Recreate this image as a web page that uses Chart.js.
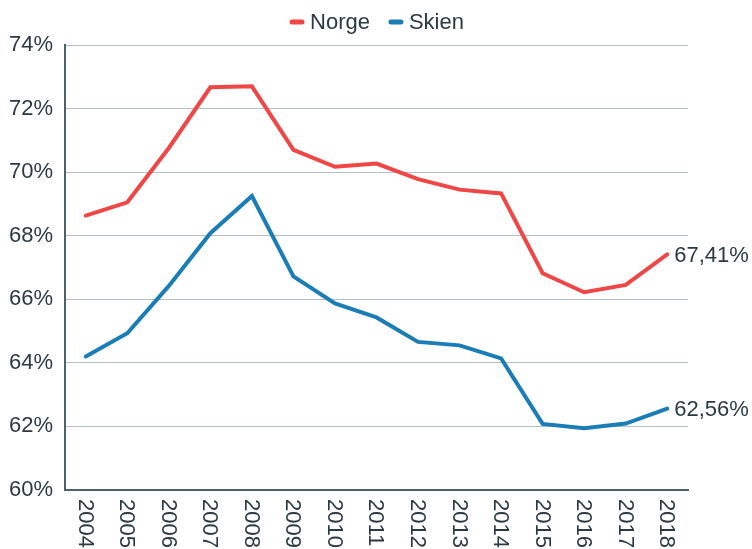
<!DOCTYPE html>
<html>
<head>
<meta charset="utf-8">
<script src="https://cdn.jsdelivr.net/npm/chart.js@4.4.0/dist/chart.umd.min.js"></script>
<style>
  html, body { margin: 0; padding: 0; background: #ffffff; }
  #wrap { width: 752px; height: 549px; }
</style>
</head>
<body>
<div id="wrap"><canvas id="lineChart" width="752" height="549"></canvas></div>
<script>
const years = ["2004", "2005", "2006", "2007", "2008", "2009", "2010", "2011",
  "2012", "2013", "2014", "2015", "2016", "2017", "2018"];
const norge = [68.63, 69.05, 70.76, 72.67, 72.70, 70.70, 70.17, 70.27,
  69.78, 69.45, 69.33, 66.82, 66.22, 66.45, 67.41];
const skien = [64.20, 64.93, 66.42, 68.08, 69.25, 66.72, 65.87, 65.43,
  64.66, 64.55, 64.14, 62.08, 61.94, 62.09, 62.56];
const yTicks = [60, 62, 64, 66, 68, 70, 72, 74];

const textColor = "#2b3a42";
const fontFamily = "'Liberation Sans', Arial, sans-serif";
const fontSize = 22;

function fmt(v) {
  return v.toFixed(2).replace(".", ",") + "%";
}

// legend, x labels read top-to-bottom, end value labels
const extras = {
  id: "extras",
  afterDraw(chart) {
    const ctx = chart.ctx;
    const xScale = chart.scales.x;
    const area = chart.chartArea;
    ctx.save();
    ctx.fillStyle = textColor;
    ctx.font = fontSize + "px " + fontFamily;

    // legend centred on the canvas
    const sets = chart.data.datasets;
    const markW = 10, gapText = 10, gapItem = 19;
    let total = 0;
    sets.forEach((ds, i) => {
      total += markW + gapText + ctx.measureText(ds.label).width;
      if (i < sets.length - 1) total += gapItem;
    });
    let lx = (chart.width - total) / 2 + 1;
    const ly = 22;
    sets.forEach((ds) => {
      ctx.save();
      ctx.strokeStyle = ds.borderColor;
      ctx.lineWidth = 5;
      ctx.lineCap = "round";
      ctx.beginPath();
      ctx.moveTo(lx + 2, ly);
      ctx.lineTo(lx + markW + 2, ly);
      ctx.stroke();
      ctx.restore();
      lx += markW + gapText;
      ctx.textAlign = "left";
      ctx.textBaseline = "middle";
      ctx.fillText(ds.label, lx, ly + 1);
      lx += ctx.measureText(ds.label).width + gapItem;
    });

    years.forEach((y, i) => {
      const x = xScale.getPixelForValue(i);
      ctx.save();
      ctx.translate(x, area.bottom + 9);
      ctx.rotate(Math.PI / 2);
      ctx.textAlign = "left";
      ctx.textBaseline = "middle";
      ctx.fillText(y, 0, 1);
      ctx.restore();
    });
    sets.forEach((ds, di) => {
      const meta = chart.getDatasetMeta(di);
      const last = meta.data[meta.data.length - 1];
      ctx.textAlign = "left";
      ctx.textBaseline = "middle";
      ctx.fillText(fmt(ds.data[ds.data.length - 1]), last.x + 7, last.y + 1);
    });
    ctx.restore();
  },
};

new Chart(document.getElementById("lineChart"), {
  type: "line",
  data: {
    labels: years,
    datasets: [
      {
        label: "Norge",
        data: norge,
        borderColor: "#f04646",
        backgroundColor: "#f04646",
        borderWidth: 4,
        borderCapStyle: "round",
        pointRadius: 0,
        tension: 0,
      },
      {
        label: "Skien",
        data: skien,
        borderColor: "#1a7db6",
        backgroundColor: "#1a7db6",
        borderWidth: 4,
        borderCapStyle: "round",
        pointRadius: 0,
        tension: 0,
      },
    ],
  },
  options: {
    responsive: false,
    animation: false,
    layout: { padding: { top: 45, right: 64, left: 0, bottom: 0 } },
    scales: {
      x: {
        offset: true,
        grid: { display: false, offset: true },
        border: { display: true, color: "#4d6169", width: 2 },
        ticks: { display: false },
        afterFit(scale) {
          scale.height = 59;
        },
      },
      y: {
        min: 60,
        max: 74,
        afterBuildTicks(scale) {
          scale.ticks = yTicks.map((v) => ({ value: v }));
        },
        grid: { color: "#b3c1c6", lineWidth: 1, drawTicks: false },
        border: { display: true, color: "#4d6169", width: 2 },
        ticks: {
          color: textColor,
          padding: 12,
          font: { size: fontSize, family: fontFamily },
          callback: (v) => v + "%",
        },
        afterFit(scale) {
          scale.width = 65;
        },
      },
    },
    plugins: {
      legend: { display: false },
      tooltip: { enabled: false },
    },
  },
  plugins: [extras],
});
</script>
</body>
</html>
